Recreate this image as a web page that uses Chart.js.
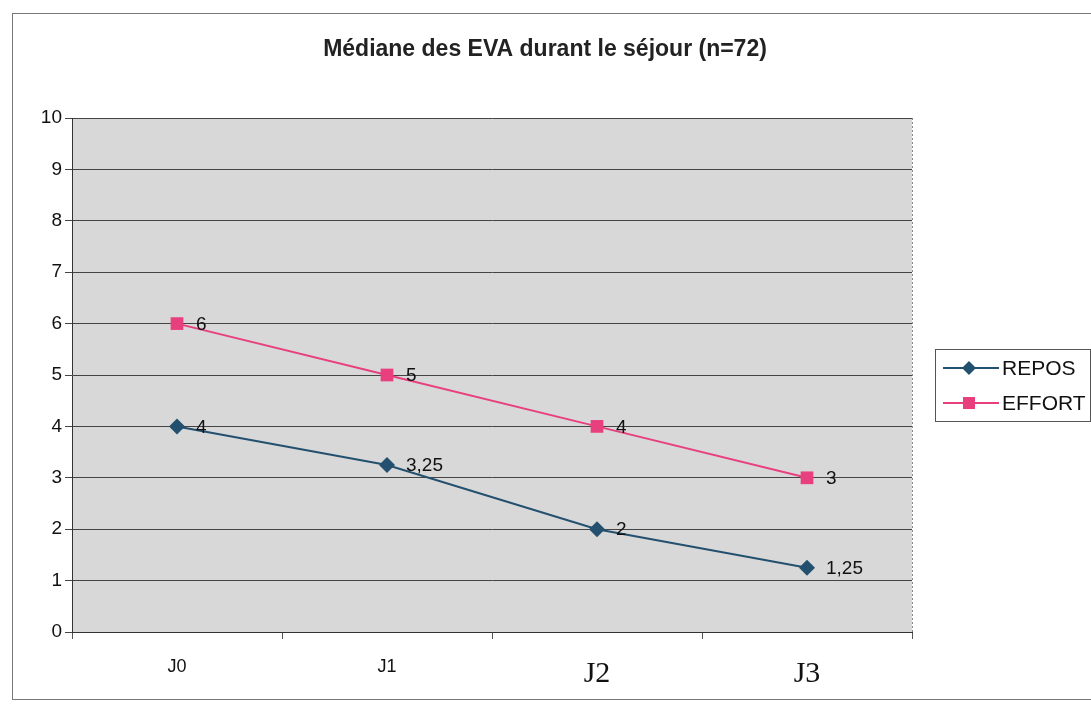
<!DOCTYPE html>
<html><head><meta charset="utf-8">
<script src="https://cdn.jsdelivr.net/npm/chart.js@4/dist/chart.umd.min.js"></script>
<style>html,body{margin:0;padding:0;background:#fff}#w{width:1091px;height:709px;position:relative}</style>
</head><body><div id="w"><canvas id="c" width="1091" height="709"></canvas></div>
<script>
const categories = ['J0', 'J1', 'J2', 'J3'];
const reposValues = [4, 3.25, 2, 1.25];
const effortValues = [6, 5, 4, 3];
const reposLabels = ['4', '3,25', '2', '1,25'];
const effortLabels = ['6', '5', '4', '3'];
const yTicks = [0, 1, 2, 3, 4, 5, 6, 7, 8, 9, 10];
const titleText = 'Médiane des EVA durant le séjour (n=72)';

const REPOS_COLOR = '#23506f';
const EFFORT_COLOR = '#e8407f';

const decor = {
  id: 'decor',
  beforeDraw(chart) {
    const {ctx, chartArea: a} = chart;
    ctx.save();
    ctx.fillStyle = '#fff';
    ctx.fillRect(0, 0, chart.width, chart.height);
    ctx.fillStyle = '#d8d8d8';
    ctx.fillRect(a.left, a.top, a.right - a.left, a.bottom - a.top);
    ctx.strokeStyle = '#888';
    ctx.setLineDash([2, 2]);
    ctx.beginPath();
    ctx.moveTo(a.right + 0.5, a.top);
    ctx.lineTo(a.right + 0.5, a.bottom);
    ctx.stroke();
    ctx.setLineDash([]);
    ctx.strokeStyle = '#777';
    ctx.lineWidth = 1;
    ctx.strokeRect(12.5, 13.5, 1090, 686);
    ctx.restore();
  },
  afterDraw(chart) {
    const {ctx} = chart;
    ctx.save();
    ctx.fillStyle = '#222';
    ctx.font = 'bold 23px "Liberation Sans", Arial, sans-serif';
    ctx.textAlign = 'center';
    ctx.textBaseline = 'middle';
    ctx.fillText(titleText, 545, 50);
    ctx.fillStyle = '#111';
    ctx.font = '19px "Liberation Sans", Arial, sans-serif';
    ctx.textAlign = 'left';
    const lbls = [reposLabels, effortLabels];
    chart.data.datasets.forEach((ds, di) => {
      chart.getDatasetMeta(di).data.forEach((pt, i) => {
        ctx.fillText(lbls[di][i], pt.x + 19, pt.y + 1);
      });
    });
    const lx = 935, ly = 349, lw = 155, lh = 72;
    ctx.strokeStyle = '#555';
    ctx.lineWidth = 1;
    ctx.strokeRect(lx + 0.5, ly + 0.5, lw, lh);
    chart.data.datasets.forEach((ds, di) => {
      const y = ly + 19 + di * 35;
      ctx.strokeStyle = ds.borderColor;
      ctx.lineWidth = 2;
      ctx.beginPath();
      ctx.moveTo(lx + 8, y);
      ctx.lineTo(lx + 64, y);
      ctx.stroke();
      ctx.fillStyle = ds.backgroundColor;
      const cx = lx + 34;
      if (di === 0) {
        ctx.beginPath();
        ctx.moveTo(cx, y - 7); ctx.lineTo(cx + 7, y); ctx.lineTo(cx, y + 7); ctx.lineTo(cx - 7, y);
        ctx.closePath(); ctx.fill();
      } else {
        ctx.fillRect(cx - 6, y - 6, 12, 12);
      }
      ctx.fillStyle = '#111';
      ctx.font = '21px "Liberation Sans", Arial, sans-serif';
      ctx.textBaseline = 'middle';
      ctx.fillText(ds.label, lx + 67, y + 1);
    });
    ctx.restore();
  }
};

new Chart(document.getElementById('c'), {
  type: 'line',
  data: {
    labels: categories,
    datasets: [
      {label: 'REPOS', data: reposValues, borderColor: REPOS_COLOR, backgroundColor: REPOS_COLOR,
       borderWidth: 2, pointStyle: 'rectRot', pointRadius: 8, pointHoverRadius: 8, pointBorderWidth: 0},
      {label: 'EFFORT', data: effortValues, borderColor: EFFORT_COLOR, backgroundColor: EFFORT_COLOR,
       borderWidth: 2, pointStyle: 'rect', pointRadius: 9, pointHoverRadius: 9, pointBorderWidth: 0}
    ]
  },
  options: {
    responsive: false,
    animation: false,
    layout: {padding: {top: 118, right: 179, left: 0, bottom: 0}},
    plugins: {legend: {display: false}, title: {display: false}, tooltip: {enabled: false}},
    scales: {
      x: {
        offset: true,
        grid: {offset: true, drawOnChartArea: false, drawTicks: true, tickLength: 7, color: '#555'},
        border: {color: '#333', width: 1},
        ticks: {
          padding: 17,
          color: '#111',
          font: (c) => (c.index >= 2
            ? {family: '"Liberation Serif", "Times New Roman", serif', size: 30}
            : {family: '"Liberation Sans", Arial, sans-serif', size: 18})
        },
        afterFit(s) { s.height = 77; }
      },
      y: {
        min: 0, max: 10,
        afterBuildTicks(s) { s.ticks = yTicks.map(v => ({value: v})); },
        grid: {color: '#444', lineWidth: 1, tickLength: 7},
        border: {color: '#333', width: 1},
        ticks: {stepSize: 1, padding: 3, color: '#111',
          font: {family: '"Liberation Sans", Arial, sans-serif', size: 19}},
        afterFit(s) { s.width = 72; }
      }
    }
  },
  plugins: [decor]
});
</script>
</body></html>
